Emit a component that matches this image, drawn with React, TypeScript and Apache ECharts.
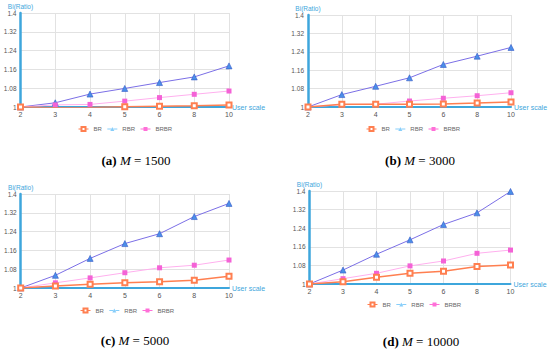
import React, { useEffect, useRef } from "react";
import * as echarts from "echarts";

const categories = ["2", "3", "4", "5", "6", "8", "10"];

const br1500 = [1, 0.997, 0.998, 1.001, 1.003, 1.005, 1.008];
const rbr1500 = [1, 1.018, 1.055, 1.079, 1.104, 1.128, 1.175];
const brbr1500 = [1, 1.009, 1.011, 1.025, 1.04, 1.054, 1.068];

const br3000 = [1, 1.012, 1.012, 1.012, 1.013, 1.017, 1.022];
const rbr3000 = [1, 1.054, 1.09, 1.127, 1.185, 1.221, 1.259];
const brbr3000 = [1, 1.01, 1.012, 1.026, 1.038, 1.049, 1.062];

const br5000 = [1, 1.009, 1.016, 1.022, 1.027, 1.033, 1.05];
const rbr5000 = [1, 1.054, 1.126, 1.189, 1.231, 1.304, 1.36];
const brbr5000 = [1, 1.022, 1.043, 1.065, 1.086, 1.097, 1.119];

const br10000 = [1, 1.01, 1.029, 1.046, 1.055, 1.075, 1.082];
const rbr10000 = [1, 1.06, 1.128, 1.19, 1.256, 1.306, 1.398];
const brbr10000 = [1, 1.023, 1.046, 1.078, 1.099, 1.132, 1.146];

const captions = [
  { tag: "(a)", m: "1500" },
  { tag: "(b)", m: "3000" },
  { tag: "(c)", m: "5000" },
  { tag: "(d)", m: "10000" },
];

const seriesNames = ["BR", "RBR", "BRBR"];
const yMin = 1;
const yMax = 1.4;
const yStep = 0.08;

export default function App() {
  const ref = useRef<HTMLDivElement>(null);
  useEffect(() => {
    if (!ref.current) return;
    const chart = echarts.init(ref.current, null, { renderer: "svg" });

    const panels = [
      { br: br1500, rbr: rbr1500, brbr: brbr1500, grid: { left: 20.5, top: 13, right: 229, bottom: 107 }, legend: { left: 78, top: 126 }, cap: { x: 136, y: 160 } },
      { br: br3000, rbr: rbr3000, brbr: brbr3000, grid: { left: 308, top: 15, right: 511, bottom: 107 }, legend: { left: 366, top: 126 }, cap: { x: 420, y: 160 } },
      { br: br5000, rbr: rbr5000, brbr: brbr5000, grid: { left: 20.7, top: 194, right: 229, bottom: 288 }, legend: { left: 80, top: 307.5 }, cap: { x: 135, y: 340 } },
      { br: br10000, rbr: rbr10000, brbr: brbr10000, grid: { left: 309.5, top: 191, right: 510.5, bottom: 284 }, legend: { left: 367, top: 301.5 }, cap: { x: 421, y: 341 } },
    ];

    const blue = "#3ea6dc";
    const labelFont = "Liberation Sans";

    const grids = panels.map((p) => ({
      left: p.grid.left,
      top: p.grid.top,
      width: p.grid.right - p.grid.left,
      height: p.grid.bottom - p.grid.top,
      containLabel: false,
      outerBoundsMode: "none",
    }));

    const xAxes = panels.map((_, i) => ({
      type: "category",
      gridIndex: i,
      data: categories,
      boundaryGap: false,
      name: "User scale",
      nameLocation: "end",
      nameGap: 3,
      nameTextStyle: { color: blue, fontSize: 7, fontFamily: labelFont },
      axisLine: { show: true, lineStyle: { color: blue, width: 2 } },
      axisTick: { show: false },
      axisLabel: { color: "#555", fontSize: 7, fontFamily: labelFont, margin: 4 },
      splitLine: { show: true, lineStyle: { color: "#e2e2e2", width: 1 } },
    }));

    const yAxes = panels.map((_, i) => ({
      type: "value",
      gridIndex: i,
      min: yMin,
      max: yMax,
      interval: yStep,
      name: "Bi(Ratio)",
      nameLocation: "end",
      nameGap: 2,
      nameTextStyle: { color: blue, fontSize: 6.5, fontFamily: labelFont },
      axisLine: { show: true, lineStyle: { color: blue, width: 2.5 } },
      axisTick: { show: false },
      axisLabel: { color: "#555", fontSize: 6.5, fontFamily: labelFont, margin: 4 },
      splitLine: { show: true, lineStyle: { color: "#e2e2e2", width: 1 } },
    }));

    const series: any[] = [];
    panels.forEach((p, i) => {
      series.push({
        name: "RBR",
        type: "line",
        xAxisIndex: i,
        yAxisIndex: i,
        data: p.rbr,
        symbol: "triangle",
        symbolSize: 6,
        z: 2,
        itemStyle: { color: "#4b8fe8", borderColor: "#3458c8", borderWidth: 0.6 },
        lineStyle: { color: "#7b6fe6", width: 1 },
      });
      series.push({
        name: "BRBR",
        type: "line",
        xAxisIndex: i,
        yAxisIndex: i,
        data: p.brbr,
        symbol: "rect",
        symbolSize: 5,
        z: 2,
        itemStyle: { color: "#f462d6" },
        lineStyle: { color: "#ffb0ee", width: 1 },
      });
      series.push({
        name: "BR",
        type: "line",
        xAxisIndex: i,
        yAxisIndex: i,
        data: p.br,
        symbol: "emptyRect",
        symbolSize: 5,
        z: 3,
        itemStyle: { color: "#ff7f50" },
        lineStyle: { color: "#ff7f50", width: 1.5 },
      });
    });

    const legends = panels.map((p) => ({
      left: p.legend.left,
      top: p.legend.top,
      padding: 0,
      itemWidth: 10,
      itemHeight: 5,
      itemGap: 5,
      textStyle: { color: "#666", fontSize: 6, fontFamily: labelFont },
      data: [
        { name: seriesNames[0], lineStyle: { color: "#ff7f50", type: "dashed", width: 1 } },
        { name: seriesNames[1], itemStyle: { color: "#87cefa", borderWidth: 0 }, lineStyle: { color: "#87cefa", type: "dashed", width: 1 } },
        { name: seriesNames[2], itemStyle: { color: "#ff6fd8" }, lineStyle: { color: "#ff6fd8", type: "dashed", width: 1 } },
      ],
    }));

    const graphics = panels.map((p, i) => ({
      type: "text",
      x: p.cap.x,
      y: p.cap.y,
      style: {
        text: `{b|${captions[i].tag}} {i|M}{n| = ${captions[i].m}}`,
        align: "center",
        verticalAlign: "middle",
        fill: "#000",
        fontSize: 13,
        fontFamily: "Liberation Serif",
        fontWeight: "normal",
        rich: {
          b: { fontWeight: "bold", fontSize: 13, fontFamily: "Liberation Serif", fill: "#000" },
          i: { fontStyle: "italic", fontWeight: "normal", fontSize: 13, fontFamily: "Liberation Serif", fill: "#000" },
          n: { fontWeight: "normal", fontSize: 13, fontFamily: "Liberation Serif", fill: "#000" },
        },
      },
    }));

    chart.setOption({
      animation: false,
      backgroundColor: "#fff",
      grid: grids,
      xAxis: xAxes,
      yAxis: yAxes,
      legend: legends,
      series,
      graphic: graphics,
    });
    return () => chart.dispose();
  }, []);

  return (
    <div
      ref={ref}
      style={{ position: "fixed", left: 0, top: 0, width: 550, height: 353, background: "#fff" }}
    />
  );
}
